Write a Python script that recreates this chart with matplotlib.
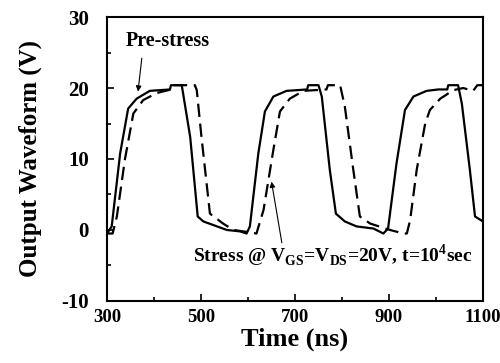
import numpy as np
import matplotlib.pyplot as plt
from matplotlib.ticker import MultipleLocator

plt.rcParams['font.family'] = 'Liberation Serif'
plt.rcParams['font.weight'] = 'bold'
plt.rcParams['axes.unicode_minus'] = False
plt.rcParams['mathtext.fontset'] = 'custom'
plt.rcParams['mathtext.rm'] = 'Liberation Serif:bold'
plt.rcParams['mathtext.bf'] = 'Liberation Serif:bold'

# pre-stress waveform (solid)
t_pre = [300, 310, 328, 345, 363, 391, 434, 436, 459, 462, 477, 493, 505, 555, 583,
         597, 604, 622, 636, 654, 682, 726, 728, 750, 757, 774, 787, 806, 831, 867,
         888, 898, 916, 934, 952, 980, 1005, 1024, 1026, 1047, 1055, 1072, 1083, 1100]
v_pre = [-0.5, 0.5, 10.8, 17.1, 18.5, 19.6, 19.8, 20.4, 20.4, 19.2, 13.1, 1.9, 1.2, 0.0, -0.2,
         -0.5, 0.5, 10.8, 16.7, 18.8, 19.6, 19.8, 20.4, 20.4, 18.8, 8.5, 2.3, 1.2, 0.5, 0.2,
         -0.5, 0.2, 9.4, 16.9, 18.8, 19.6, 19.8, 19.8, 20.4, 20.4, 17.8, 8.5, 1.9, 1.2]

# after stress (dashed)
t_st = [300, 312, 321, 338, 356, 377, 406, 437, 440, 487, 491, 501, 519, 547, 569,
        600, 618, 633, 654, 668, 689, 718, 767, 770, 796, 806, 824, 838, 860, 902,
        931, 938, 945, 959, 977, 987, 1009, 1037, 1058, 1079, 1088, 1100]
v_st = [-0.5, -0.5, 1.9, 9.9, 16.4, 18.3, 19.3, 19.8, 20.4, 20.4, 19.7, 13.1, 2.3, 0.9, 0.0,
        -0.3, -0.5, 2.8, 11.3, 16.7, 18.5, 19.6, 19.8, 20.4, 20.4, 17.4, 8.5, 1.9, 0.9, 0.0,
        -0.5, -0.5, 1.4, 8.5, 15.0, 16.9, 18.5, 19.7, 20.0, 19.6, 20.4, 20.4]

x_ticks = [300, 500, 700, 900, 1100]
y_ticks = [-10, 0, 10, 20, 30]

fig = plt.figure(figsize=(5, 3.63), dpi=100)
ax = fig.add_axes([0.214, 0.171, 0.752, 0.782])

ax.plot(t_pre, v_pre, color="black", lw=1.6)
ax.plot(t_st, v_st, color="black", lw=1.6, dashes=(6, 3))

ax.set_xlim(300, 1100)
ax.set_ylim(-10, 30)
ax.set_xticks(x_ticks)
ax.set_yticks(y_ticks)
ax.xaxis.set_minor_locator(MultipleLocator(100))
ax.yaxis.set_minor_locator(MultipleLocator(5))
ax.tick_params(which="both", direction="in", width=1.2)
ax.tick_params(which="major", length=5)
ax.tick_params(which="minor", length=3)
ax.tick_params(axis="x", labelsize=13.5, pad=6)
ax.tick_params(axis="y", labelsize=15, pad=13)
for s in ax.spines.values():
    s.set_linewidth(1.5)

ax.set_xlabel("Time (ns)", fontsize=19, fontweight="bold", labelpad=1)
ax.set_ylabel("Output Waveform (V)", fontsize=18, fontweight="bold", labelpad=14)

arrow = dict(arrowstyle="-|>", color="black", lw=0.8,
             mutation_scale=8, shrinkA=0, shrinkB=0)
ax.text(430, 26.6, "Pre-stress", fontsize=14.5, fontweight="bold",
        ha="center", va="center")
ax.annotate("", xy=(366, 19.5), xytext=(374, 24.2), arrowprops=arrow)
ax.text(780, -3.6, r"Stress @ V$_{\rm GS}$=V$_{\rm DS}$=20V, t=10$^{\rm 4}$sec",
        fontsize=14, fontweight="bold", ha="center", va="center")
ax.annotate("", xy=(650, 6.8), xytext=(672, -1.8), arrowprops=arrow)

plt.savefig("out.png", dpi=100)
